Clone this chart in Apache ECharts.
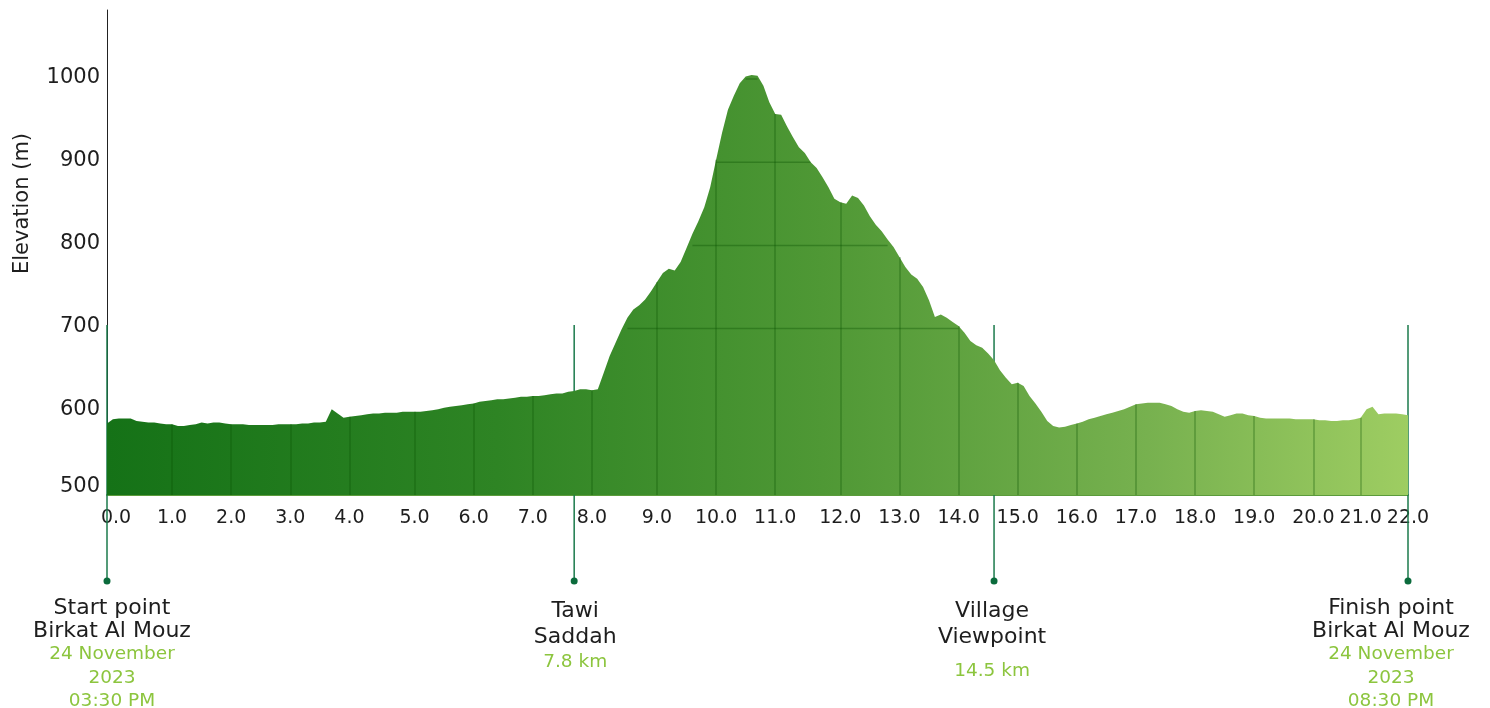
<!DOCTYPE html>
<html><head><meta charset="utf-8">
<script src="https://cdn.jsdelivr.net/npm/echarts@6/dist/echarts.min.js"></script>
<style>html,body{margin:0;padding:0;background:#fff}#c{width:1490px;height:708px}</style>
</head><body><div id="c"></div>
<script>
// distance (km) of each profile sample
const distanceKm = [
  0, 0.09, 0.18, 0.27, 0.36, 0.45, 0.55, 0.64, 0.73, 0.82, 0.91,
  1, 1.1, 1.2, 1.3, 1.4, 1.5, 1.6, 1.7, 1.8, 1.9,
  2, 2.1, 2.2, 2.3, 2.4, 2.5, 2.6, 2.7, 2.8, 2.9,
  3, 3.1, 3.2, 3.3, 3.4, 3.5, 3.6, 3.7, 3.8, 3.9,
  4, 4.09, 4.18, 4.27, 4.36, 4.45, 4.55, 4.64, 4.73, 4.82, 4.91,
  5, 5.1, 5.2, 5.3, 5.4, 5.5, 5.6, 5.7, 5.8, 5.9,
  6, 6.1, 6.2, 6.3, 6.4, 6.5, 6.6, 6.7, 6.8, 6.9,
  7, 7.1, 7.2, 7.3, 7.4, 7.5, 7.6, 7.7, 7.8, 7.9,
  8, 8.09, 8.18, 8.27, 8.36, 8.45, 8.55, 8.64, 8.73, 8.82, 8.91,
  9, 9.1, 9.2, 9.3, 9.4, 9.5, 9.6, 9.7, 9.8, 9.9,
  10, 10.1, 10.2, 10.3, 10.4, 10.5, 10.6, 10.7, 10.8, 10.9,
  11, 11.09, 11.18, 11.27, 11.36, 11.45, 11.55, 11.64, 11.73, 11.82, 11.91,
  12, 12.1, 12.2, 12.3, 12.4, 12.5, 12.6, 12.7, 12.8, 12.9,
  13, 13.1, 13.2, 13.3, 13.4, 13.5, 13.6, 13.7, 13.8, 13.9,
  14, 14.1, 14.2, 14.3, 14.4, 14.5, 14.6, 14.7, 14.8, 14.9,
  15, 15.1, 15.2, 15.3, 15.4, 15.5, 15.6, 15.7, 15.8, 15.9,
  16, 16.1, 16.2, 16.3, 16.4, 16.5, 16.6, 16.7, 16.8, 16.9,
  17, 17.1, 17.2, 17.3, 17.4, 17.5, 17.6, 17.7, 17.8, 17.9,
  18, 18.1, 18.2, 18.3, 18.4, 18.5, 18.6, 18.7, 18.8, 18.9,
  19, 19.1, 19.2, 19.3, 19.4, 19.5, 19.6, 19.7, 19.8, 19.9,
  20, 20.13, 20.25, 20.38, 20.5, 20.63, 20.75, 20.88,
  21, 21.13, 21.25, 21.38, 21.5, 21.63, 21.75, 21.88,
  22
];
// elevation (m) of each sample
const elevationM = [
  586, 591, 592, 592, 592, 589, 588, 587, 587, 586,
  585, 585, 583, 583, 584, 585, 587, 586, 587, 587,
  586, 585, 585, 585, 584, 584, 584, 584, 584, 585,
  585, 585, 585, 586, 586, 587, 587, 588, 603, 598,
  593, 594, 595, 596, 597, 598, 598, 599, 599, 599,
  600, 600, 600, 600, 601, 602, 603, 605, 606, 607,
  608, 609, 610, 612, 613, 614, 615, 615, 616, 617,
  618, 618, 619, 619, 620, 621, 622, 622, 624, 625,
  627, 627, 626, 627, 647, 667, 683, 699, 713, 723,
  728, 735, 745, 756, 767, 772, 770, 780, 797, 814,
  829, 846, 870, 903, 935, 963, 980, 995, 1003, 1005,
  1004, 992, 972, 958, 957, 943, 930, 918, 911, 900,
  893, 882, 870, 856, 852, 850, 860, 857, 848, 835,
  825, 817, 807, 798, 786, 774, 765, 760, 750, 734,
  714, 717, 713, 708, 703, 695, 685, 680, 677, 670,
  662, 650, 641, 633, 635, 631, 619, 610, 600, 589,
  583, 581, 582, 584, 586, 588, 591, 593, 595, 597,
  599, 601, 603, 606, 609, 610, 611, 611, 611, 609,
  607, 603, 600, 599, 601, 602, 601, 600, 597, 594,
  596, 598, 598, 596, 595, 593, 592, 592, 592, 592,
  592, 591, 591, 591, 591, 590, 590, 589, 589, 590,
  590, 591, 593, 603, 606, 597, 598, 598, 598, 597,
  596
];
const Y_MIN = 500;
const Y_MAX = 1083;
const gridLevels = [700, 800, 900, 1000];
const markerKm = [0, 7.7, 14.6, 22];
const markerTitle = [['Start point', 'Birkat Al Mouz'], ['Tawi', 'Saddah'], ['Village', 'Viewpoint'], ['Finish point', 'Birkat Al Mouz']];
const markerDetail = [['24 November', '2023', '03:30 PM'], ['7.8 km'], ['14.5 km'], ['24 November', '2023', '08:30 PM']];

const FONT = 'DejaVu Sans';
const DARK = '#1e1e1e';
const LIME = '#8cc53e';
const GRIDC = 'rgba(10,80,0,0.35)';

const nearestIdx = km => {
  let best = 0;
  distanceKm.forEach((d, i) => { if (Math.abs(d - km) < Math.abs(distanceKm[best] - km)) best = i; });
  return best;
};
const integerIdx = [];
distanceKm.forEach((d, i) => { if (Math.round(d) === d && d > 0 && d < 22) integerIdx.push(i); });

const markerStyle = [
  { t: 'a', d: 'b', dist: 12, off: [5, 0] },
  { t: 'c', d: 'd', dist: 14, off: [1, 0] },
  { t: 'c', d: 'e', dist: 14, off: [-2, 0] },
  { t: 'a', d: 'b', dist: 12, off: [-17, 0] }
];
const markerData = markerKm.map((km, k) => {
  const st = markerStyle[k];
  const txt = markerTitle[k].map(s => '{' + st.t + '|' + s + '}')
    .concat(markerDetail[k].map(s => '{' + st.d + '|' + s + '}')).join('\n');
  return { value: [nearestIdx(km), 0], label: { formatter: txt, distance: st.dist, offset: st.off } };
});

const chart = echarts.init(document.getElementById('c'));
const areaGrad = new echarts.graphic.LinearGradient(0, 0, 1, 0, [
  { offset: 0, color: '#157217' },
  { offset: 0.3, color: '#2e8424' },
  { offset: 0.55, color: '#4f9835' },
  { offset: 0.8, color: '#77b14f' },
  { offset: 1, color: '#9ecd62' }
]);

const series = [
  {
    type: 'line', xAxisIndex: 0, yAxisIndex: 0, data: elevationM,
    symbol: 'none', lineStyle: { width: 0 }, smooth: false,
    areaStyle: { color: areaGrad, opacity: 1, origin: 'start' }, silent: true,
    markLine: {
      silent: true, animation: false, symbol: ['none', 'none'],
      label: { show: false },
      lineStyle: { color: GRIDC, width: 1.5, type: 'solid' },
      emphasis: { disabled: true },
      data: integerIdx.map(i => [
        { coord: [i, Y_MIN] },
        { coord: [i, elevationM[i]] }
      ])
    }
  }
];
gridLevels.forEach(L => {
  series.push({
    type: 'line', xAxisIndex: 0, yAxisIndex: 0, symbol: 'none', silent: true,
    lineStyle: { color: GRIDC, width: 1.5 },
    data: elevationM.map(v => v >= L ? L : '-')
  });
});
series.push({
  type: 'bar', xAxisIndex: 1, yAxisIndex: 1, barWidth: 1.5, clip: false, silent: true,
  itemStyle: { color: '#1b7a4b', opacity: 1 },
  data: markerData.map(m => [m.value[0], 1])
});
series.push({
  type: 'scatter', xAxisIndex: 1, yAxisIndex: 1, symbol: 'circle', symbolSize: 7, clip: false, silent: true,
  itemStyle: { color: '#0b6b3c', opacity: 1 },
  label: {
    show: true, position: 'bottom', align: 'center', opacity: 1,
    rich: {
      a: { fontFamily: FONT, fontSize: 22, color: DARK, lineHeight: 23, align: 'center' },
      b: { fontFamily: FONT, fontSize: 18.5, color: LIME, lineHeight: 23.5, align: 'center' },
      c: { fontFamily: FONT, fontSize: 22, color: DARK, lineHeight: 26, align: 'center' },
      d: { fontFamily: FONT, fontSize: 18.5, color: LIME, lineHeight: 24, align: 'center' },
      e: { fontFamily: FONT, fontSize: 18.5, color: LIME, lineHeight: 42, align: 'center' }
    }
  },
  data: markerData
});

chart.setOption({
  animation: false,
  backgroundColor: '#ffffff',
  grid: [
    { left: 107, right: 82, top: 10, bottom: 213 },
    { left: 107, right: 82, top: 325, bottom: 127 }
  ],
  xAxis: [
    {
      type: 'category', gridIndex: 0, data: distanceKm, boundaryGap: false,
      axisLine: { show: true, lineStyle: { color: '#5b9b3b', width: 2 } },
      axisTick: { show: false },
      splitLine: { show: false },
      axisLabel: {
        margin: 14,
        interval: (idx, v) => Number(v) % 1 === 0,
        formatter: (v, idx) => idx === 0 ? '{z|' + Number(v).toFixed(1) + '}' : '{n|' + Number(v).toFixed(1) + '}',
        rich: {
          n: { fontFamily: FONT, fontSize: 19, color: DARK },
          z: { fontFamily: FONT, fontSize: 19, color: DARK, padding: [0, 0, 0, 18] }
        }
      }
    },
    { type: 'category', gridIndex: 1, data: distanceKm, boundaryGap: false, show: false }
  ],
  yAxis: [
    {
      type: 'value', gridIndex: 0, min: Y_MIN, max: Y_MAX, interval: 100,
      name: 'Elevation (m)', nameLocation: 'middle', nameRotate: 90, nameGap: 74,
      nameTextStyle: { fontFamily: FONT, fontSize: 21, color: DARK, padding: [0, 0, 0, 98] },
      axisLine: { show: true, lineStyle: { color: '#222', width: 1 } },
      axisTick: { show: false },
      splitLine: { show: false },
      axisLabel: {
        margin: 7, showMaxLabel: false,
        formatter: v => v === 500 ? '{m|' + v + '}' : '{n|' + v + '}',
        rich: {
          n: { fontFamily: FONT, fontSize: 21, color: DARK, padding: [0, 0, 4, 0] },
          m: { fontFamily: FONT, fontSize: 21, color: DARK, padding: [0, 0, 16, 0] }
        }
      }
    },
    { type: 'value', gridIndex: 1, min: 0, max: 1, show: false }
  ],
  series: series
});
</script>
</body></html>
